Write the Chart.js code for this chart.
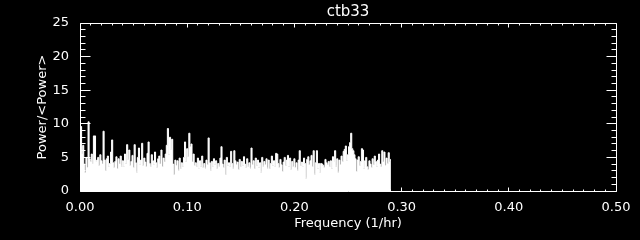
<!DOCTYPE html>
<html><head><meta charset="utf-8">
<script src="https://cdn.jsdelivr.net/npm/chart.js@4.4.1/dist/chart.umd.min.js"></script>
<style>html,body{margin:0;padding:0;background:#000;}#c{display:block}</style>
</head><body>
<canvas id="c" width="640" height="240"></canvas>
<script>
const chartTitle = 'ctb33';
const xTitle = 'Frequency (1/hr)';
const yTitle = 'Power/<Power>';
const freqStep = 0.001;   // frequency spacing of the periodogram (1/hr)
const xRange = [0, 0.5];
const yRange = [0, 25];
const xTickStep = 0.1;
const yTickStep = 5;
const xMinorPerMajor = 10;
const yMinorPerMajor = 5;

// normalised power, one value per frequency bin (0.000 .. 0.290)
const power = [
  4.2, 9.6, 5.5, 6.8, 4.0, 2.7, 5.0, 3.5, 10.3, 4.8,
  4.4, 5.5, 4.0, 8.2, 8.2, 4.3, 4.6, 5.0, 3.8, 5.4,
  4.5, 4.0, 8.9, 4.6, 3.0, 4.8, 5.2, 3.6, 4.1, 5.8,
  7.6, 4.2, 3.5, 4.4, 5.1, 3.3, 4.8, 4.0, 5.2, 3.7,
  4.5, 3.6, 5.5, 4.1, 6.9, 4.7, 6.1, 3.8, 4.4, 5.3,
  3.5, 6.9, 4.2, 2.8, 5.0, 6.4, 3.9, 4.6, 7.1, 3.8,
  4.9, 4.3, 3.6, 5.6, 7.3, 4.1, 3.7, 5.4, 4.5, 3.9,
  5.8, 4.2, 3.5, 4.8, 5.2, 4.0, 6.1, 3.6, 4.9, 4.3,
  5.5, 6.8, 9.3, 5.4, 8.0, 6.2, 7.7, 4.0, 2.4, 4.6,
  3.8, 4.5, 3.1, 4.9, 3.4, 4.2, 3.6, 5.0, 7.3, 4.4,
  6.3, 5.1, 8.6, 6.6, 7.0, 4.3, 5.5, 3.8, 4.2, 3.6,
  4.9, 3.3, 4.5, 3.7, 5.2, 3.5, 4.1, 3.4, 4.6, 3.9,
  7.9, 4.2, 3.1, 4.4, 3.6, 4.8, 3.9, 4.5, 3.3, 4.1,
  3.7, 4.9, 6.6, 4.0, 3.5, 4.6, 2.4, 5.0, 3.8, 4.2,
  3.6, 5.9, 4.1, 3.4, 6.0, 4.5, 3.9, 4.3, 3.2, 4.7,
  3.6, 4.4, 3.8, 5.1, 4.0, 3.5, 4.8, 3.7, 4.2, 3.4,
  6.4, 3.9, 4.5, 3.3, 4.9, 3.8, 4.6, 3.5, 4.2, 2.8,
  5.0, 3.7, 4.4, 3.9, 4.8, 3.4, 4.6, 3.3, 4.1, 5.2,
  3.8, 4.5, 3.6, 5.6, 5.5, 4.1, 3.5, 4.7, 3.9, 2.9,
  4.3, 5.0, 3.8, 4.6, 5.3, 3.7, 4.9, 3.2, 4.4, 3.6,
  4.8, 3.5, 4.2, 3.1, 4.6, 6.0, 3.8, 4.3, 3.6, 4.9,
  4.1, 1.9, 4.7, 5.1, 3.9, 4.5, 5.3, 3.6, 6.0, 2.5,
  4.2, 6.0, 3.4, 4.1, 2.7, 4.1, 4.0, 3.8, 3.5, 4.7,
  4.2, 3.9, 4.4, 3.6, 4.5, 3.4, 5.1, 4.3, 6.0, 3.7,
  4.8, 2.8, 4.6, 3.9, 5.2, 4.4, 5.9, 6.2, 6.7, 4.5,
  5.4, 6.6, 7.2, 8.6, 6.3, 6.0, 5.4, 4.8, 2.9, 4.6,
  5.1, 3.8, 4.4, 6.3, 6.1, 3.4, 4.5, 5.0, 3.6, 3.2,
  4.5, 4.0, 3.5, 4.8, 3.9, 5.2, 4.4, 3.7, 4.6, 5.5,
  4.0, 3.6, 6.0, 4.3, 5.8, 3.8, 4.9, 4.1, 5.7, 4.4,
  4.7
];

const points = power.map((p, i) => ({ x: i * freqStep, y: p }));

const FONT = "'DejaVu Sans', sans-serif";

function minorValues(vals, n) {
  const out = [];
  for (let i = 0; i < vals.length - 1; i++)
    for (let k = 1; k < n; k++) out.push(vals[i] + (vals[i + 1] - vals[i]) * k / n);
  return out;
}

const frame = {
  id: 'frame',
  afterDatasetsDraw(chart) {
    const { ctx, scales: { x, y } } = chart;
    const L = Math.floor(x.getPixelForValue(xRange[0])) + 0.5;
    const R = Math.floor(x.getPixelForValue(xRange[1])) + 0.5;
    const T = Math.floor(y.getPixelForValue(yRange[1])) + 0.5;
    const B = Math.floor(y.getPixelForValue(yRange[0])) + 0.5;
    ctx.save();
    ctx.strokeStyle = '#fff';
    ctx.lineWidth = 1;
    ctx.beginPath();
    ctx.rect(L, T, R - L, B - T);
    const xt = x.ticks.map(t => t.value), yt = y.ticks.map(t => t.value);
    const xTick = (v, len) => {
      const px = Math.floor(x.getPixelForValue(v)) + 0.5;
      ctx.moveTo(px, B); ctx.lineTo(px, B - len);
      ctx.moveTo(px, T); ctx.lineTo(px, T + len);
    };
    const yTick = (v, len) => {
      const py = Math.floor(y.getPixelForValue(v)) + 0.5;
      ctx.moveTo(L, py); ctx.lineTo(L + len, py);
      ctx.moveTo(R, py); ctx.lineTo(R - len, py);
    };
    xt.forEach(v => xTick(v, 4));
    minorValues(xt, xMinorPerMajor).forEach(v => xTick(v, 2));
    yt.forEach(v => yTick(v, 10));
    minorValues(yt, yMinorPerMajor).forEach(v => yTick(v, 5));
    ctx.stroke();
    ctx.restore();
  }
};

new Chart(document.getElementById('c'), {
  type: 'line',
  data: {
    datasets: [{
      data: points,
      stepped: 'middle',
      borderColor: '#fff',
      backgroundColor: '#fff',
      borderWidth: 1,
      fill: 'origin',
      pointRadius: 0,
      tension: 0
    }]
  },
  options: {
    responsive: false,
    animation: false,
    devicePixelRatio: 1,
    layout: { padding: { top: 0, right: 24, bottom: 0, left: 0 } },
    plugins: {
      legend: { display: false },
      tooltip: { enabled: false },
      title: {
        display: true,
        text: chartTitle,
        color: '#fff',
        fullSize: false,
        font: { family: FONT, size: 15, weight: 'normal' },
        padding: { top: 3, bottom: 2 }
      }
    },
    scales: {
      x: {
        type: 'linear',
        min: xRange[0], max: xRange[1],
        afterFit: s => { s.height = 49; },
        grid: { display: false },
        border: { display: false },
        ticks: {
          stepSize: xTickStep,
          color: '#fff',
          padding: 1,
          maxRotation: 0,
          font: { family: FONT, size: 13 },
          callback: v => Number(v).toFixed(2)
        },
        title: {
          display: true, text: xTitle, color: '#fff',
          font: { family: FONT, size: 13 },
          padding: { top: 0, bottom: 9 }
        }
      },
      y: {
        type: 'linear',
        min: yRange[0], max: yRange[1],
        afterFit: s => { s.width = 80; },
        grid: { display: false },
        border: { display: false },
        ticks: {
          stepSize: yTickStep,
          color: '#fff',
          padding: 3,
          font: { family: FONT, size: 13 }
        },
        title: {
          display: true, text: yTitle, color: '#fff',
          font: { family: FONT, size: 13 },
          padding: { top: 35, bottom: 0 }
        }
      }
    }
  },
  plugins: [frame]
});
</script>
</body></html>
